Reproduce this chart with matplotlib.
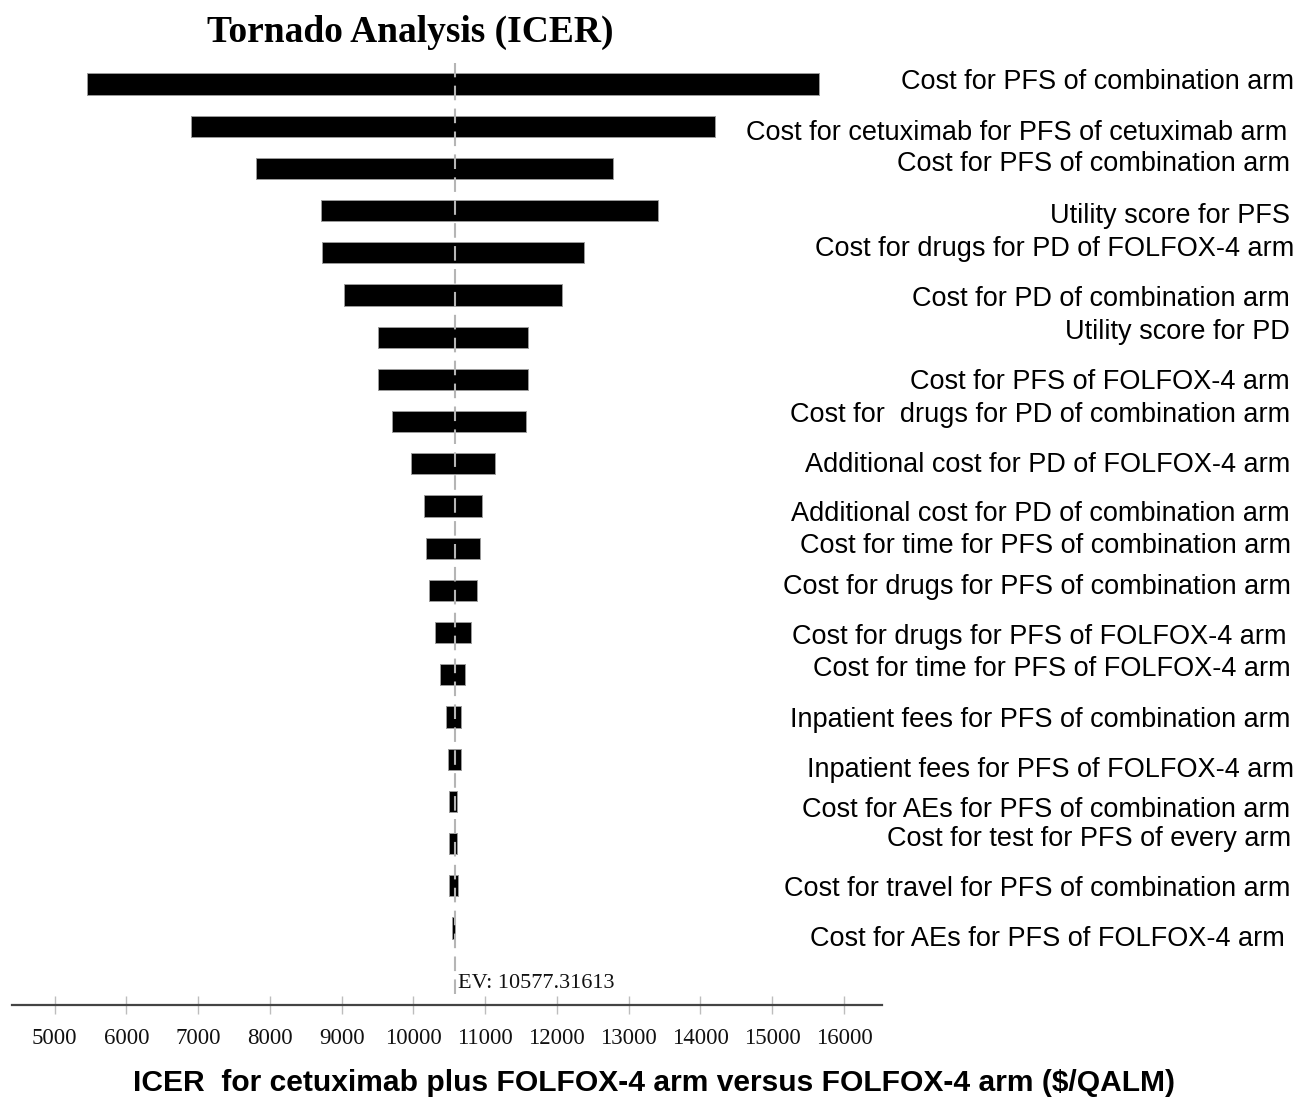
import matplotlib
matplotlib.use("Agg")
import matplotlib.pyplot as plt

# ---------------- data ----------------
labels = [
    "Cost for PFS of combination arm",
    "Cost for cetuximab for PFS of cetuximab arm",
    "Cost for PFS of combination arm",
    "Utility score for PFS",
    "Cost for drugs for PD of FOLFOX-4 arm",
    "Cost for PD of combination arm",
    "Utility score for PD",
    "Cost for PFS of FOLFOX-4 arm",
    "Cost for  drugs for PD of combination arm",
    "Additional cost for PD of FOLFOX-4 arm",
    "Additional cost for PD of combination arm",
    "Cost for time for PFS of combination arm",
    "Cost for drugs for PFS of combination arm",
    "Cost for drugs for PFS of FOLFOX-4 arm",
    "Cost for time for PFS of FOLFOX-4 arm",
    "Inpatient fees for PFS of combination arm",
    "Inpatient fees for PFS of FOLFOX-4 arm",
    "Cost for AEs for PFS of combination arm",
    "Cost for test for PFS of every arm",
    "Cost for travel for PFS of combination arm",
    "Cost for AEs for PFS of FOLFOX-4 arm",
]
low_values = [5449, 6902, 7803, 8709, 8732, 9038, 9503, 9503, 9707, 9967, 10146,
              10172, 10222, 10302, 10376, 10451, 10479, 10502, 10502, 10502, 10534]
high_values = [15656, 14203, 12786, 13405, 12373, 12067, 11602, 11602, 11574, 11138, 10959,
               10929, 10882, 10803, 10724, 10660, 10660, 10613, 10613, 10627, 10584]
ev_value = 10577.31613
x_ticks = [5000, 6000, 7000, 8000, 9000, 10000, 11000, 12000, 13000, 14000, 15000, 16000]

# ---------------- layout (pixels) ----------------
W, H = 1308, 1109
label_y_px = [82, 133, 164, 216, 249, 299, 332, 382, 415, 465, 514, 546, 587,
              637, 669, 720, 770, 810, 839, 889, 939]
label_right_px = [1294, 1287, 1290, 1290, 1294, 1290, 1290, 1290, 1290, 1290, 1290,
                  1291, 1291, 1287, 1291, 1290, 1294, 1290, 1291, 1290, 1285]

fig = plt.figure(figsize=(W / 100, H / 100), dpi=100)
ax_left, ax_right, ax_top, ax_bottom = 12, 882, 63, 1005
ax = fig.add_axes([ax_left / W, 1 - ax_bottom / H,
                   (ax_right - ax_left) / W, (ax_bottom - ax_top) / H])

positions = list(range(len(labels)))
widths = [h - l for l, h in zip(low_values, high_values)]
ax.barh(positions, widths, left=low_values, height=0.5,
        color="black", edgecolor="#9a9a9a", linewidth=0.7, zorder=2)

# x range so that 5000 -> 54.5px and 16000 -> 844px
px_per_unit = (844 - 54.5) / 11000
ax.set_xlim(5000 - (54.5 - ax_left) / px_per_unit, 5000 + (ax_right - 54.5) / px_per_unit)
# y range so bar 0 at 84px and step 42.2px
step = 42.2
ax.set_ylim((ax_bottom - 84) / step, (ax_top - 84) / step)

ax.axvline(ev_value, ymin=0.012, ymax=1, color="#b5b5b5", lw=1.5,
           dashes=(7, 4), zorder=3)

for s in ["top", "left", "right"]:
    ax.spines[s].set_visible(False)
ax.spines["bottom"].set_color("#444444")
ax.spines["bottom"].set_linewidth(1.6)
ax.spines["bottom"].set_zorder(4)
ax.set_yticks([])
ax.set_xticks(x_ticks)
ax.set_xticklabels([str(t) for t in x_ticks], fontfamily="Liberation Serif", fontsize=16.5,
                   color="#111111")
ax.tick_params(axis="x", direction="inout", length=13, width=1.0, color="#bdbdbd", pad=10)
ax.set_facecolor("none")

ax.annotate(f"EV: {ev_value:.5f}", xy=(ev_value, (ax_bottom - 983) / (ax_bottom - ax_top)),
            xycoords=("data", "axes fraction"), xytext=(3, 0), textcoords="offset pixels",
            va="center", ha="left", fontfamily="Liberation Serif", fontsize=16, color="#111111")

for lab, ypx, xr in zip(labels, label_y_px, label_right_px):
    fig.text(xr / W, 1 - ypx / H, lab, ha="right", va="center",
             fontfamily="Liberation Sans", fontsize=19.5, color="black")

fig.text(410 / W, 1 - 32 / H, "Tornado Analysis (ICER)", ha="center", va="center",
         fontfamily="Liberation Serif", fontweight="bold", fontsize=27)
fig.text(654 / W, 1 - 1083 / H,
         "ICER  for cetuximab plus FOLFOX-4 arm versus FOLFOX-4 arm ($/QALM)",
         ha="center", va="center", fontfamily="Liberation Sans", fontweight="bold",
         fontsize=21.6)

fig.savefig("out.png", dpi=100)
